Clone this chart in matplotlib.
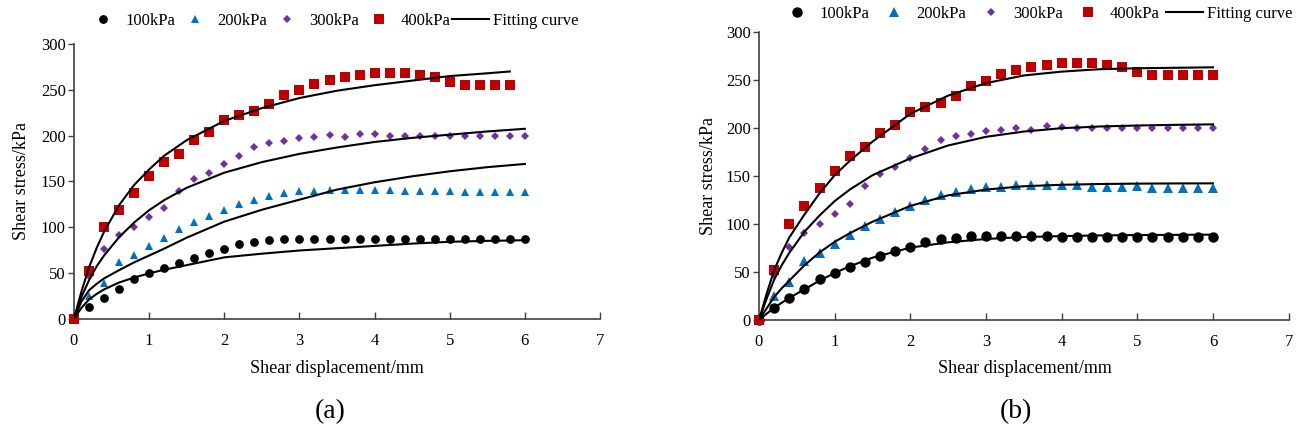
import matplotlib
matplotlib.use("Agg")
import matplotlib.pyplot as plt

plt.rcParams['font.family'] = ['Liberation Serif', 'DejaVu Serif']

# measured points (shear displacement every 0.2 mm)
disp = [0, 0.2, 0.4, 0.6, 0.8, 1.0, 1.2, 1.4, 1.6, 1.8, 2.0, 2.2, 2.4, 2.6, 2.8, 3.0,
        3.2, 3.4, 3.6, 3.8, 4.0, 4.2, 4.4, 4.6, 4.8, 5.0, 5.2, 5.4, 5.6, 5.8, 6.0]
s100 = [0, 13, 22.5, 32, 43, 49.5, 55.5, 61, 66.5, 71.5, 76.5, 81.5, 84, 86, 87.5, 87.5,
        87.5, 87.5, 87.5, 87.5, 86.5, 86.5, 86.5, 86.5, 86.5, 86.5, 86.5, 86.5, 86.5, 86.5, 86.5]
s200 = [0, 25, 39.5, 62, 69.5, 79, 88.5, 98, 105.5, 112.5, 118.5, 125, 130, 133.5, 137, 139,
        139, 141, 141, 141, 141, 141, 139, 139, 139, 139.5, 138, 138, 138, 138, 138]
s300 = [0, 47, 76.5, 91, 100.5, 111, 121, 140, 152.5, 159.5, 169, 178, 187.5, 192, 194, 197,
        198, 200.5, 198, 202, 201.5, 200, 200, 200, 200, 200, 200, 200, 200, 200, 200]
s400 = [0, 52, 100, 119, 137.5, 155.5, 171.5, 180, 195.5, 203.5, 216.5, 222.5, 226.5, 234, 244.5, 249.5,
        256.5, 260.5, 263.5, 266, 268, 268, 268, 266, 263.5, 259, 255.5, 255.5, 255.5, 255.5, 255.5]

# fitting curves
fit_x = [0, 0.1, 0.2, 0.3, 0.4, 0.6, 0.8, 1.0, 1.2, 1.5, 2.0, 2.5, 3.0, 3.5, 4.0, 4.5, 5.0, 5.5, 6.0]
fit_x_a400 = [0, 0.1, 0.2, 0.3, 0.4, 0.6, 0.8, 1.0, 1.2, 1.5, 2.0, 2.5, 3.0, 3.5, 4.0, 4.5, 5.0, 5.5, 5.8]

fit_a100 = [0, 12, 21, 27, 32, 39.5, 45, 49.5, 53.5, 58.5, 67, 71, 74.5, 77, 79.5, 82, 84, 85, 85.7]
fit_a200 = [0, 19, 31, 38, 44, 53, 61.5, 69, 76.5, 88.5, 106, 119, 130, 141, 149, 155.5, 161, 165.5, 169]
fit_a300 = [0, 24, 42, 57, 69, 89, 105, 118.5, 129.5, 143, 159.5, 171, 180, 187, 193, 197.5, 201, 204.5, 207.4]
fit_a400 = [0, 30, 56, 77, 95, 124, 146, 163, 178, 195, 216, 230, 241, 249, 255, 260, 265, 268, 270]

fit_b100 = [0, 6.5, 12.5, 18, 23, 32, 41, 49, 56, 65, 75.5, 81, 84.5, 86.5, 87.5, 88.2, 88.6, 88.8, 89]
fit_b200 = [0, 12, 24, 33, 41, 57, 70.5, 81.5, 90.5, 102.5, 119, 130, 136, 139.5, 141, 141.8, 142.2, 142.4, 142.5]
fit_b300 = [0, 22, 42, 57, 70, 92, 109, 124, 136, 151, 168.5, 182, 191, 196.5, 200, 201.8, 202.8, 203.5, 204]
fit_b400 = [0, 27, 52, 70, 86, 110, 132, 151, 166, 186, 215, 234, 247, 255, 259, 261.5, 262.5, 263, 263.5]

labels = ['100kPa', '200kPa', '300kPa', '400kPa']
colors = ['black', '#0070C0', '#7030A0', '#C00000']
markers = ['o', '^', 'D', 's']

fig = plt.figure(figsize=(13.05, 4.37), dpi=100)
ax1 = fig.add_axes([0.0567, 0.2707, 0.4031, 0.6286])
ax2 = fig.add_axes([0.5816, 0.2677, 0.4059, 0.6584])


def panel(ax, series, fits, msizes, leg_xy, colsp):
    for (x, y), lab, c, m, ms in zip(series, labels, colors, markers, msizes):
        ax.plot(x, y, linestyle='none', marker=m, color=c, ms=ms, mew=0,
                label=lab, clip_on=False, zorder=3)
    for i, (x, y) in enumerate(fits):
        ax.plot(x, y, color='black', lw=1.5, zorder=4,
                label='Fitting curve' if i == 0 else None)
    ax.set_xlim(0, 7)
    ax.set_ylim(0, 300)
    ax.set_xticks(range(8))
    ax.set_yticks(range(0, 301, 50))
    for s in ['top', 'right']:
        ax.spines[s].set_visible(False)
    for s in ['left', 'bottom']:
        ax.spines[s].set_color('#404040')
        ax.spines[s].set_linewidth(1.2)
    ax.tick_params(axis='x', direction='in', length=5, width=1, color='#404040',
                   pad=10, labelsize=12)
    ax.tick_params(axis='y', direction='out', length=4, width=1, color='#404040',
                   pad=2, labelsize=12)
    ax.set_xlabel('Shear displacement/mm', fontsize=13)
    ax.set_ylabel('Shear stress/kPa', fontsize=13)
    fig.legend(*ax.get_legend_handles_labels(), loc='center', ncol=5,
               bbox_to_anchor=leg_xy, frameon=False, fontsize=12,
               handlelength=2.2, handletextpad=0.22, columnspacing=colsp)


panel(ax1,
      [(disp, s100), (disp, s200), (disp, s300), (disp[:-1], s400[:-1])],
      [(fit_x, fit_a100), (fit_x, fit_a200), (fit_x, fit_a300), (fit_x_a400, fit_a400)],
      [6.3, 5.8, 4.0, 7.2], (0.254, 0.953), 0.1)
panel(ax2,
      [(disp, s100), (disp, s200), (disp, s300), (disp, s400)],
      [(fit_x, fit_b100), (fit_x, fit_b200), (fit_x, fit_b300), (fit_x, fit_b400)],
      [7.5, 7.2, 4.3, 7.2], (0.7935, 0.9675), 0.4)

ax1.xaxis.set_label_coords(0.5, -0.18)
ax1.yaxis.set_label_coords(-0.1, 0.5)
ax2.xaxis.set_label_coords(0.502, -0.167)
ax2.yaxis.set_label_coords(-0.095, 0.5)
for ax in (ax1, ax2):
    ax.xaxis.label.set_va('center')
    ax.yaxis.label.set_va('center')

fig.text(0.2529, 0.0572, '(a)', ha='center', va='center', fontsize=20)
fig.text(0.7785, 0.0572, '(b)', ha='center', va='center', fontsize=20)

plt.savefig('out.png', dpi=100)
